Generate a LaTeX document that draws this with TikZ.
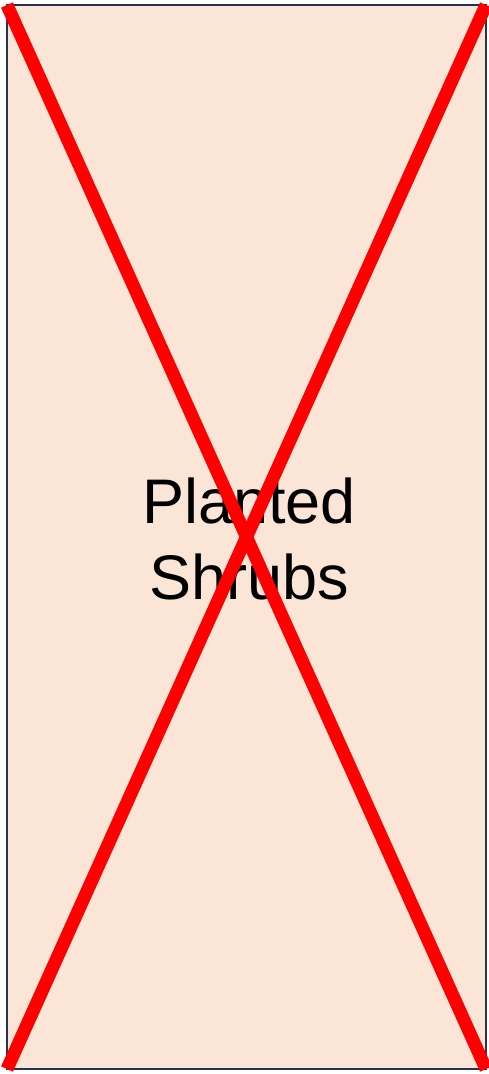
\documentclass[tikz,border=0pt]{standalone}
\usepackage{fontspec}
\setmainfont{Liberation Sans}
\usetikzlibrary{positioning}
\definecolor{bedfill}{HTML}{FBE5D6}
\definecolor{bededge}{HTML}{243352}
\tikzset{
  bed/.style={draw=bededge, line width=2pt, fill=bedfill, align=center,
              font=\fontsize{63}{76}\selectfont, minimum width=479pt,
              minimum height=1064pt, inner sep=0pt, outer sep=0pt},
  cross/.style={draw=red, line width=13pt, line cap=butt},
}
\begin{document}
\begin{tikzpicture}[x=1pt, y=-1pt]
\useasboundingbox (0,0) rectangle (489,1074);
\node[bed] (shrubs) at (246.5,537) {};
\node[font=\fontsize{63}{76}\selectfont, align=center, inner sep=0pt]
  (label) at (249,539) {Planted\\Shrubs};
\draw[cross] (shrubs.north west) -- (shrubs.south east);
\draw[cross] (shrubs.north east) -- (shrubs.south west);
\end{tikzpicture}
\end{document}
